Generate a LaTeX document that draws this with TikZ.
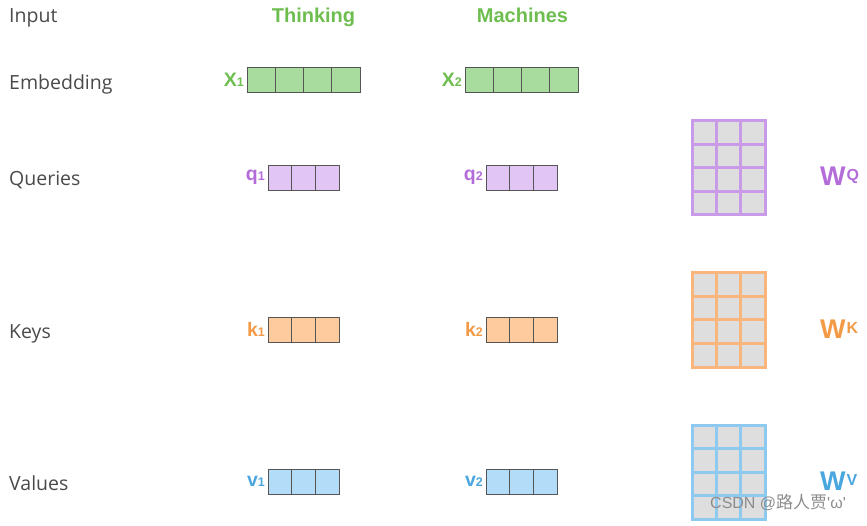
\documentclass[tikz,border=0pt]{standalone}
\usepackage{fontspec}
\setmainfont{Open Sans}
\newfontfamily\hv{Liberation Sans}
\newfontfamily\cjk{Noto Sans CJK SC}
\definecolor{gfill}{HTML}{A8DB9E}
\definecolor{gtext}{HTML}{6DBE4F}
\definecolor{pfill}{HTML}{E0C5F5}
\definecolor{ptext}{HTML}{B36CD9}
\definecolor{pline}{HTML}{C99AE8}
\definecolor{ofill}{HTML}{FDCB9D}
\definecolor{otext}{HTML}{F29A45}
\definecolor{oline}{HTML}{F8B57C}
\definecolor{bfill}{HTML}{B3DCF8}
\definecolor{btext}{HTML}{4AA6DF}
\definecolor{bline}{HTML}{8EC9F0}
\definecolor{cgray}{HTML}{DEDEDE}
\definecolor{lgray}{HTML}{4A4A4A}
\definecolor{cellline}{HTML}{555555}
\newcommand{\veclab}[2]{#1{\fontsize{12.5}{12.5}\selectfont #2}}
\newcommand{\wlab}[2]{#1\hspace{1pt}\raisebox{5pt}{\fontsize{16}{16}\selectfont #2}}
\begin{document}
\begin{tikzpicture}[x=1pt,y=-1pt,
  rowlabel/.style={anchor=base west,text=lgray,font=\fontsize{19.5}{19.5}\selectfont,inner sep=0pt},
  wordlabel/.style={anchor=base,text=gtext,font=\hv\bfseries\fontsize{20}{20}\selectfont,inner sep=0pt},
  veccell/.style={draw=cellline,line width=0.8pt,inner sep=0pt,outer sep=0pt,anchor=north west,minimum height=25pt},
  embcell/.style={veccell,fill=gfill,minimum width=28.25pt},
  qcell/.style={veccell,fill=pfill,minimum width=23.67pt},
  kcell/.style={veccell,fill=ofill,minimum width=23.67pt},
  vcell/.style={veccell,fill=bfill,minimum width=23.67pt},
  vlab/.style={anchor=east,inner sep=0pt,font=\hv\bfseries\fontsize{19.5}{19.5}\selectfont},
  matcell/.style={fill=cgray,line width=3pt,inner sep=0pt,outer sep=0pt,anchor=north west,minimum width=24.33pt,minimum height=23.5pt},
  wl/.style={anchor=base west,inner sep=0pt,font=\hv\bfseries\fontsize{27}{27}\selectfont}
]
\useasboundingbox (0,0) rectangle (867,526);
% row labels
\node[rowlabel] (input) at (9,22.5) {Input};
\node[rowlabel] (emb) at (9,90) {Embedding};
\node[rowlabel] (que) at (9,186) {Queries};
\node[rowlabel] (key) at (9,339) {Keys};
\node[rowlabel] (val) at (9,490) {Values};
% words
\node[wordlabel] (w1) at (313.5,23) {Thinking};
\node[wordlabel] (w2) at (522.5,23) {Machines};
% embeddings
\foreach \i in {0,...,3}{
  \node[embcell] (xa\i) at ({247+28.25*\i},67) {};
  \node[embcell] (xb\i) at ({465+28.25*\i},67) {};
}
\node[vlab,text=gtext] (x1) at ([xshift=-3pt]xa0.west) {\veclab{X}{1}};
\node[vlab,text=gtext] (x2) at ([xshift=-3pt]xb0.west) {\veclab{X}{2}};
% q k v
\foreach \i in {0,1,2}{
  \node[qcell] (qa\i) at ({268+23.67*\i},165) {};
  \node[qcell] (qb\i) at ({486+23.67*\i},165) {};
  \node[kcell] (ka\i) at ({268+23.67*\i},317) {};
  \node[kcell] (kb\i) at ({486+23.67*\i},317) {};
  \node[vcell] (va\i) at ({268+23.67*\i},469) {};
  \node[vcell] (vb\i) at ({486+23.67*\i},469) {};
}
\node[vlab,text=ptext] (q1) at ([xshift=-3pt]qa0.west) {\veclab{q}{1}};
\node[vlab,text=ptext] (q2) at ([xshift=-3pt]qb0.west) {\veclab{q}{2}};
\node[vlab,text=otext] (k1) at ([xshift=-3pt]ka0.west) {\veclab{k}{1}};
\node[vlab,text=otext] (k2) at ([xshift=-3pt]kb0.west) {\veclab{k}{2}};
\node[vlab,text=btext] (v1) at ([xshift=-3pt]va0.west) {\veclab{v}{1}};
\node[vlab,text=btext] (v2) at ([xshift=-3pt]vb0.west) {\veclab{v}{2}};
% weight matrices
\foreach \r in {0,...,3}{
  \foreach \c in {0,1,2}{
    \node[matcell,draw=pline] (wq\r\c) at ({692+24.33*\c},{121+23.5*\r}) {};
    \node[matcell,draw=oline] (wk\r\c) at ({692+24.33*\c},{273+23.5*\r}) {};
    \node[matcell,draw=bline] (wv\r\c) at ({692+24.33*\c},{425+23.5*\r}) {};
  }
}
\node[wl,text=ptext] (WQ) at (820,186) {\wlab{W}{Q}};
\node[wl,text=otext] (WK) at (820,338) {\wlab{W}{K}};
\node[wl,text=btext] (WV) at (820,490) {\wlab{W}{V}};
% watermark
\node[anchor=base west,inner sep=0pt,text=black!45,font=\hv\fontsize{16}{16}\selectfont] (wm) at (710,508) {CSDN @{\cjk\fontsize{17}{17}\selectfont 路人贾}'ω'};
\end{tikzpicture}
\end{document}
